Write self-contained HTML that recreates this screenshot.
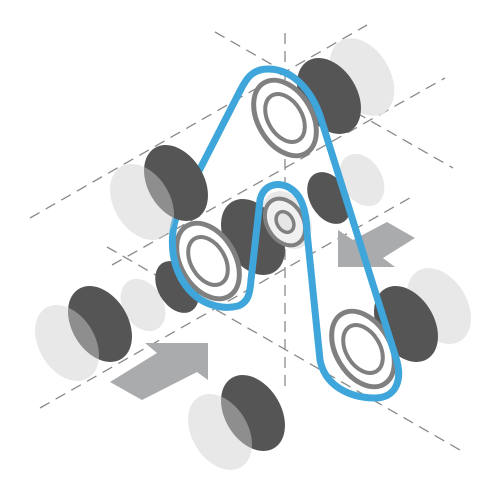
<!DOCTYPE html>
<html><head><meta charset="utf-8"><style>html,body{margin:0;padding:0;background:#fff}svg{display:block}</style></head>
<body>
<svg width="500" height="500" viewBox="0 0 500 500">
<g stroke="#8a8a8a" stroke-width="1.3" stroke-dasharray="11 7" fill="none">
<line x1="285" y1="33" x2="285" y2="390"/>
<line x1="30" y1="218" x2="367" y2="25"/>
<line x1="112" y1="265" x2="445" y2="78"/>
<line x1="40" y1="408" x2="415" y2="195"/>
<line x1="215" y1="32" x2="453" y2="168"/>
<line x1="107" y1="247" x2="460" y2="450"/>
</g>
<g fill="#e8e8e8">
<ellipse cx="362" cy="77" rx="28" ry="42" transform="rotate(-31 362 77)"/>
<ellipse cx="362" cy="180" rx="20" ry="28" transform="rotate(-31 362 180)"/>
<ellipse cx="143" cy="305" rx="20" ry="28" transform="rotate(-31 143 305)"/>
<ellipse cx="439" cy="306" rx="28" ry="41" transform="rotate(-31 439 306)"/>
<ellipse cx="287" cy="220" rx="22" ry="31" transform="rotate(-31 287 220)"/>
</g>
<g fill="#555">
<ellipse cx="329" cy="96" rx="28" ry="41" transform="rotate(-31 329 96)"/>
<ellipse cx="329" cy="198" rx="19" ry="28" transform="rotate(-31 329 198)"/>
<ellipse cx="253" cy="237" rx="28" ry="41" transform="rotate(-31 253 237)"/>
<ellipse cx="177" cy="287" rx="19" ry="28" transform="rotate(-31 177 287)"/>
<ellipse cx="100" cy="324" rx="28" ry="41" transform="rotate(-31 100 324)"/>
<ellipse cx="406" cy="324" rx="28" ry="41" transform="rotate(-31 406 324)"/>
<ellipse cx="253" cy="413" rx="28" ry="41" transform="rotate(-31 253 413)"/>
</g>
<g fill="#cecece" fill-opacity="0.47">
<ellipse cx="67" cy="343" rx="28" ry="41" transform="rotate(-31 67 343)"/>
<ellipse cx="220" cy="432" rx="28" ry="41" transform="rotate(-31 220 432)"/>
</g>
<g fill="#aaabad">
<polygon points="110,382 157,353 145,343 208,343 208,380 197,372 142,400"/>
<polygon points="338,230 338,267 395,267 383,258 415,238 387,222 353,240"/>
</g>
<g fill="#fff" stroke="#808080">
<ellipse cx="285" cy="118" rx="27" ry="41" stroke-width="5" transform="rotate(-31 285 118)"/>
<ellipse cx="285" cy="118" rx="17" ry="26" stroke-width="4" transform="rotate(-31 285 118)"/>
<ellipse cx="208" cy="261" rx="27" ry="41" stroke-width="5" transform="rotate(-31 208 261)"/>
<ellipse cx="208" cy="261" rx="17" ry="26" stroke-width="4" transform="rotate(-31 208 261)"/>
<ellipse cx="363" cy="349" rx="27" ry="41" stroke-width="5" transform="rotate(-31 363 349)"/>
<ellipse cx="363" cy="349" rx="17" ry="26" stroke-width="4" transform="rotate(-31 363 349)"/>
<ellipse cx="285" cy="222" rx="18" ry="25" stroke-width="4" fill="#f0f0f0" transform="rotate(-31 285 222)"/>
<ellipse cx="285" cy="222" rx="8" ry="11" stroke-width="3.5" fill="#e6e6e6" transform="rotate(-31 285 222)"/>
</g>
<path d="M268,69 C252,69 246,79 240,91 L180,208 C169,230 169,263 186,286 C200,305 222,310 238,306 C249,302 250,292 251,280 L260,200 C263,186 275,182 286,186 C300,192 306,206 307,232 L320,360 C325,386 350,398 375,398 C396,398 403,380 396,358 L322,122 C314,94 295,69 268,69 Z" fill="none" stroke="#3ea6da" stroke-width="7" stroke-linejoin="round"/>
<ellipse cx="176" cy="183" rx="28" ry="41" transform="rotate(-31 176 183)" fill="#555"/>
<ellipse cx="142" cy="202" rx="28" ry="41" transform="rotate(-31 142 202)" fill="#cecece" fill-opacity="0.47"/>
</svg>
</body></html>
